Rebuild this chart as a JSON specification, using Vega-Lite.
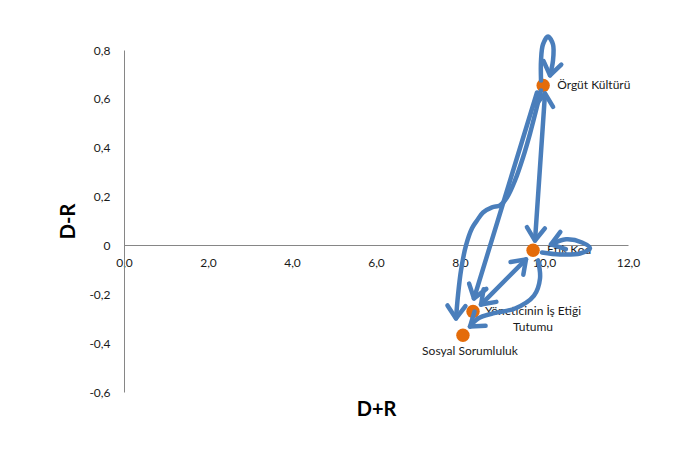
{
  "$schema": "https://vega.github.io/schema/vega-lite/v6.json",
  "width": 504,
  "height": 342,
  "autosize": {"type": "none"},
  "padding": {"left": 124, "top": 50, "right": 47, "bottom": 58},
  "background": "white",
  "config": {
    "font": "Lato",
    "view": {"stroke": null},
    "axis": {
      "grid": false,
      "ticks": false,
      "domainColor": "#868686",
      "domainWidth": 1,
      "labelFont": "Lato",
      "labelFontSize": 12,
      "labelColor": "#1a1a1a",
      "titleFont": "Lato",
      "titleFontSize": 20,
      "titleFontWeight": "bold",
      "titleColor": "#000000"
    }
  },
  "datasets": {
    "factors": [
      {"factor": "Örgüt Kültürü", "d_plus_r": 9.98, "d_minus_r": 0.655},
      {"factor": "Etik Kod", "d_plus_r": 9.74, "d_minus_r": -0.02},
      {"factor": "Yöneticinin İş Etiği Tutumu", "d_plus_r": 8.31, "d_minus_r": -0.27},
      {"factor": "Sosyal Sorumluluk", "d_plus_r": 8.07, "d_minus_r": -0.368}
    ],
    "arrows": [
      {"arrow": "ok_loop", "seq": 0, "d_plus_r": 9.929, "d_minus_r": 0.675},
      {"arrow": "ok_loop", "seq": 1, "d_plus_r": 9.929, "d_minus_r": 0.757},
      {"arrow": "ok_loop", "seq": 2, "d_plus_r": 9.976, "d_minus_r": 0.823},
      {"arrow": "ok_loop", "seq": 3, "d_plus_r": 10.095, "d_minus_r": 0.855},
      {"arrow": "ok_loop", "seq": 4, "d_plus_r": 10.214, "d_minus_r": 0.823},
      {"arrow": "ok_loop", "seq": 5, "d_plus_r": 10.214, "d_minus_r": 0.757},
      {"arrow": "ok_loop", "seq": 6, "d_plus_r": 10.143, "d_minus_r": 0.696},

      {"arrow": "ok_ek", "seq": 0, "d_plus_r": 10.024, "d_minus_r": 0.622},
      {"arrow": "ok_ek", "seq": 1, "d_plus_r": 9.786, "d_minus_r": 0.02},

      {"arrow": "ok_yit", "seq": 0, "d_plus_r": 9.833, "d_minus_r": 0.626},
      {"arrow": "ok_yit", "seq": 1, "d_plus_r": 8.333, "d_minus_r": -0.217},

      {"arrow": "ok_ss", "seq": 0, "d_plus_r": 9.929, "d_minus_r": 0.634},
      {"arrow": "ok_ss", "seq": 1, "d_plus_r": 9.667, "d_minus_r": 0.458},
      {"arrow": "ok_ss", "seq": 2, "d_plus_r": 9.5, "d_minus_r": 0.36},
      {"arrow": "ok_ss", "seq": 3, "d_plus_r": 9.31, "d_minus_r": 0.266},
      {"arrow": "ok_ss", "seq": 4, "d_plus_r": 9.119, "d_minus_r": 0.196},
      {"arrow": "ok_ss", "seq": 5, "d_plus_r": 8.952, "d_minus_r": 0.164},
      {"arrow": "ok_ss", "seq": 6, "d_plus_r": 8.762, "d_minus_r": 0.156},
      {"arrow": "ok_ss", "seq": 7, "d_plus_r": 8.548, "d_minus_r": 0.135},
      {"arrow": "ok_ss", "seq": 8, "d_plus_r": 8.405, "d_minus_r": 0.102},
      {"arrow": "ok_ss", "seq": 9, "d_plus_r": 8.286, "d_minus_r": 0.07},
      {"arrow": "ok_ss", "seq": 10, "d_plus_r": 8.143, "d_minus_r": 0.0},
      {"arrow": "ok_ss", "seq": 11, "d_plus_r": 8.024, "d_minus_r": -0.102},
      {"arrow": "ok_ss", "seq": 12, "d_plus_r": 7.952, "d_minus_r": -0.205},
      {"arrow": "ok_ss", "seq": 13, "d_plus_r": 7.905, "d_minus_r": -0.299},

      {"arrow": "yit_ek", "seq": 0, "d_plus_r": 8.5, "d_minus_r": -0.242},
      {"arrow": "yit_ek", "seq": 1, "d_plus_r": 9.571, "d_minus_r": -0.057},

      {"arrow": "ek_ss", "seq": 0, "d_plus_r": 9.857, "d_minus_r": -0.061},
      {"arrow": "ek_ss", "seq": 1, "d_plus_r": 9.905, "d_minus_r": -0.135},
      {"arrow": "ek_ss", "seq": 2, "d_plus_r": 9.762, "d_minus_r": -0.205},
      {"arrow": "ek_ss", "seq": 3, "d_plus_r": 9.31, "d_minus_r": -0.258},
      {"arrow": "ek_ss", "seq": 4, "d_plus_r": 8.786, "d_minus_r": -0.278},
      {"arrow": "ek_ss", "seq": 5, "d_plus_r": 8.429, "d_minus_r": -0.299},
      {"arrow": "ek_ss", "seq": 6, "d_plus_r": 8.238, "d_minus_r": -0.332},

      {"arrow": "ek_loop", "seq": 0, "d_plus_r": 9.952, "d_minus_r": -0.029},
      {"arrow": "ek_loop", "seq": 1, "d_plus_r": 10.381, "d_minus_r": -0.037},
      {"arrow": "ek_loop", "seq": 2, "d_plus_r": 10.857, "d_minus_r": -0.033},
      {"arrow": "ek_loop", "seq": 3, "d_plus_r": 11.095, "d_minus_r": -0.012},
      {"arrow": "ek_loop", "seq": 4, "d_plus_r": 10.905, "d_minus_r": 0.012},
      {"arrow": "ek_loop", "seq": 5, "d_plus_r": 10.524, "d_minus_r": 0.025},
      {"arrow": "ek_loop", "seq": 6, "d_plus_r": 10.167, "d_minus_r": 0.004}
    ],
    "heads": [
      {"arrow": "ok_loop", "d_plus_r": 10.143, "d_minus_r": 0.696, "angle": 191},
      {"arrow": "ok_ek", "d_plus_r": 10.024, "d_minus_r": 0.622, "angle": 4},
      {"arrow": "ok_ek", "d_plus_r": 9.786, "d_minus_r": 0.02, "angle": 184},
      {"arrow": "ok_yit", "d_plus_r": 8.333, "d_minus_r": -0.217, "angle": 197},
      {"arrow": "ok_ss", "d_plus_r": 7.905, "d_minus_r": -0.299, "angle": 182},
      {"arrow": "yit_ek", "d_plus_r": 8.5, "d_minus_r": -0.242, "angle": 225},
      {"arrow": "yit_ek", "d_plus_r": 9.571, "d_minus_r": -0.057, "angle": 45},
      {"arrow": "ek_ss", "d_plus_r": 8.238, "d_minus_r": -0.332, "angle": 232},
      {"arrow": "ek_loop", "d_plus_r": 10.167, "d_minus_r": 0.004, "angle": 252}
    ]
  },
  "encoding": {
    "x": {
      "field": "d_plus_r",
      "type": "quantitative",
      "scale": {"domain": [0, 12], "nice": false, "zero": false},
      "axis": {
        "title": "D+R",
        "values": [0, 2, 4, 6, 8, 10, 12],
        "offset": -147,
        "labelFlush": false,
        "labelPadding": 12,
        "titlePadding": 131,
        "labelExpr": "replace(format(datum.value, '.1f'), '.', ',')"
      }
    },
    "y": {
      "field": "d_minus_r",
      "type": "quantitative",
      "scale": {"domain": [-0.6, 0.8], "nice": false, "zero": false},
      "axis": {
        "title": "D-R",
        "values": [-0.6, -0.4, -0.2, 0, 0.2, 0.4, 0.6, 0.8],
        "labelPadding": 14,
        "titlePadding": 10,
        "labelFlush": false,
        "labelExpr": "datum.value == 0 ? '0' : (datum.value < 0 ? '-' : '') + replace(format(abs(datum.value), '.1f'), '.', ',')"
      }
    }
  },
  "layer": [
    {
      "data": {"name": "factors"},
      "mark": {"type": "circle", "size": 180, "color": "#E46C0A", "opacity": 1}
    },
    {
      "data": {"name": "factors"},
      "transform": [{"filter": "datum.factor == 'Örgüt Kültürü' || datum.factor == 'Etik Kod'"}],
      "mark": {"type": "text", "align": "left", "baseline": "middle", "dx": 14, "fontSize": 12, "color": "#1a1a1a"},
      "encoding": {"text": {"field": "factor"}}
    },
    {
      "data": {"name": "factors"},
      "transform": [
        {"filter": "datum.factor == 'Yöneticinin İş Etiği Tutumu'"},
        {"calculate": "replace(datum.factor, 'Etiği ', 'Etiği\\n')", "as": "label"}
      ],
      "mark": {"type": "text", "align": "center", "baseline": "middle", "dx": 60, "lineBreak": "\n", "lineHeight": 16, "fontSize": 12, "color": "#1a1a1a"},
      "encoding": {"text": {"field": "label"}}
    },
    {
      "data": {"name": "factors"},
      "transform": [{"filter": "datum.factor == 'Sosyal Sorumluluk'"}],
      "mark": {"type": "text", "align": "center", "baseline": "middle", "dx": 7, "dy": 16, "fontSize": 12, "color": "#1a1a1a"},
      "encoding": {"text": {"field": "factor"}}
    },
    {
      "data": {"name": "arrows"},
      "mark": {"type": "line", "interpolate": "catmull-rom", "stroke": "#4A7EBB", "strokeWidth": 4.5, "strokeCap": "round", "strokeJoin": "round"},
      "encoding": {
        "detail": {"field": "arrow"},
        "order": {"field": "seq", "type": "quantitative"}
      }
    },
    {
      "data": {"name": "heads"},
      "mark": {"type": "point", "shape": "M-0.6,0.85L0,0L0.6,0.85", "filled": false, "size": 900, "stroke": "#4A7EBB", "strokeWidth": 4.5, "strokeCap": "round", "strokeJoin": "round", "opacity": 1},
      "encoding": {
        "angle": {"field": "angle", "type": "quantitative", "scale": null}
      }
    }
  ]
}
